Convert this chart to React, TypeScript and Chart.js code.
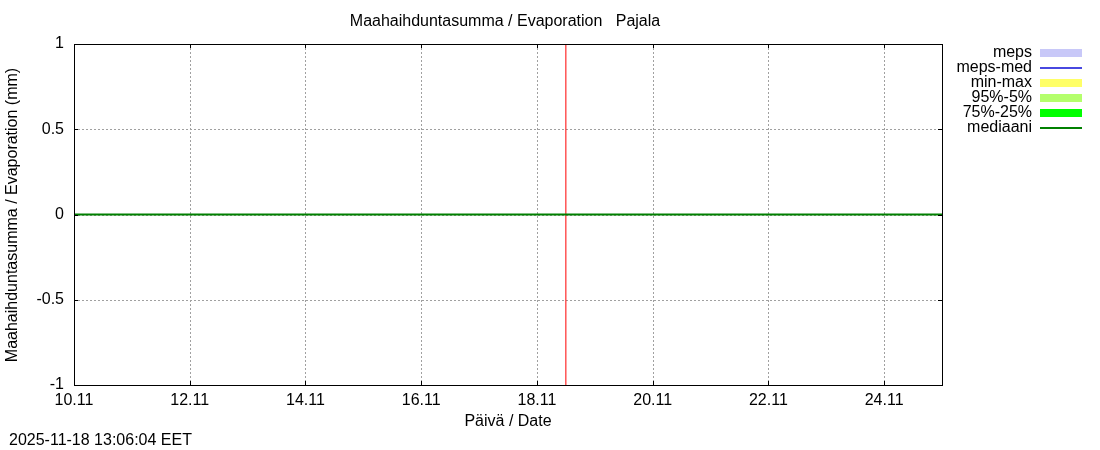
import { useEffect, useRef } from "react";
import { Chart, registerables } from "chart.js";

Chart.register(...registerables);

const TITLE = "Maahaihduntasumma / Evaporation   Pajala";
const Y_TITLE = "Maahaihduntasumma / Evaporation (mm)";
const X_TITLE = "Päivä / Date";
const TIMESTAMP = "2025-11-18 13:06:04 EET";

// x values are day-of-month in November
const X_MIN = 10;
const X_MAX = 25;
const X_TICKS = [10, 12, 14, 16, 18, 20, 22, 24];
const X_TICK_LABELS = ["10.11", "12.11", "14.11", "16.11", "18.11", "20.11", "22.11", "24.11"];
const Y_MIN = -1;
const Y_MAX = 1;
const Y_TICKS = [-1, -0.5, 0, 0.5, 1];

const medianDays = [10, 25];
const medianValues = [0, 0];
const nowDay = 18.5;

const LEGEND_LABELS = ["meps", "meps-med", "min-max", "95%-5%", "75%-25%", "mediaani"];
const LEGEND_COLORS = ["#c8c8f8", "#4848e0", "#ffff66", "#b4ff6c", "#00ff00", "#008000"];
const LEGEND_THICK = [true, false, true, true, true, false];

const FONT = '"Liberation Sans", Arial, sans-serif';

export default function App() {
  const ref = useRef<HTMLCanvasElement | null>(null);

  useEffect(() => {
    document.body.style.margin = "0";
    const canvas = ref.current;
    if (!canvas) return;

    const decor = {
      id: "decor",
      beforeDatasetsDraw(chart: any) {
        const { ctx, chartArea: a, scales } = chart;
        ctx.save();
        ctx.strokeStyle = "#a0a0a0";
        ctx.lineWidth = 1;
        ctx.setLineDash([2, 2]);
        X_TICKS.forEach((v) => {
          const x = Math.round(scales.x.getPixelForValue(v)) + 0.5;
          ctx.beginPath();
          ctx.moveTo(x, a.top);
          ctx.lineTo(x, a.bottom);
          ctx.stroke();
        });
        Y_TICKS.forEach((v) => {
          const y = Math.round(scales.y.getPixelForValue(v)) + 0.5;
          ctx.beginPath();
          ctx.moveTo(a.left, y);
          ctx.lineTo(a.right, y);
          ctx.stroke();
        });
        ctx.restore();
      },
      afterDraw(chart: any) {
        const { ctx, chartArea: a, scales } = chart;
        ctx.save();
        // border box
        ctx.strokeStyle = "#000";
        ctx.lineWidth = 1;
        ctx.setLineDash([]);
        ctx.strokeRect(Math.round(a.left) + 0.5, Math.round(a.top) + 0.5, Math.round(a.right - a.left), Math.round(a.bottom - a.top));
        // inward ticks on all sides
        const tl = 4;
        X_TICKS.forEach((v) => {
          const x = Math.round(scales.x.getPixelForValue(v)) + 0.5;
          ctx.beginPath();
          ctx.moveTo(x, a.bottom);
          ctx.lineTo(x, a.bottom - tl);
          ctx.moveTo(x, a.top);
          ctx.lineTo(x, a.top + tl);
          ctx.stroke();
        });
        Y_TICKS.forEach((v) => {
          const y = Math.round(scales.y.getPixelForValue(v)) + 0.5;
          ctx.beginPath();
          ctx.moveTo(a.left, y);
          ctx.lineTo(a.left + tl, y);
          ctx.moveTo(a.right, y);
          ctx.lineTo(a.right - tl, y);
          ctx.stroke();
        });

        ctx.fillStyle = "#000";
        ctx.font = "16px " + FONT;
        // title
        ctx.textAlign = "center";
        ctx.textBaseline = "middle";
        ctx.fillText(TITLE, 505, 22);
        // x title
        ctx.fillText(X_TITLE, (a.left + a.right) / 2, 422);
        // y title
        ctx.save();
        ctx.translate(13, 215);
        ctx.rotate(-Math.PI / 2);
        ctx.fillText(Y_TITLE, 0, 0);
        ctx.restore();
        // timestamp
        ctx.textAlign = "left";
        ctx.fillText(TIMESTAMP, 9, 441);

        // legend
        LEGEND_LABELS.forEach((lab, i) => {
          const y = 53 + i * 15;
          ctx.fillStyle = "#000";
          ctx.textAlign = "right";
          ctx.textBaseline = "middle";
          ctx.fillText(lab, 1032, y);
          ctx.fillStyle = LEGEND_COLORS[i];
          if (LEGEND_THICK[i]) {
            ctx.fillRect(1040, y - 4, 42, 8);
          } else {
            ctx.fillRect(1040, y - 1, 42, 2);
          }
        });
        ctx.restore();
      },
    };

    const chart = new Chart(canvas, {
      type: "line",
      data: {
        datasets: [
          {
            label: "mediaani",
            data: medianDays.map((d, i) => ({ x: d, y: medianValues[i] })),
            borderColor: "#008000",
            borderWidth: 2,
            pointRadius: 0,
            fill: false,
          },
          {
            label: "now",
            data: [
              { x: nowDay, y: Y_MIN },
              { x: nowDay, y: Y_MAX },
            ],
            borderColor: "#ff0000",
            borderWidth: 1,
            pointRadius: 0,
            fill: false,
          },
        ],
      },
      options: {
        animation: false,
        responsive: false,
        devicePixelRatio: 1,
        layout: { padding: { left: 0, right: 158, top: 44, bottom: 0 } },
        plugins: { legend: { display: false }, tooltip: { enabled: false }, title: { display: false } },
        scales: {
          x: {
            type: "linear",
            min: X_MIN,
            max: X_MAX,
            afterBuildTicks: (s: any) => {
              s.ticks = X_TICKS.map((v) => ({ value: v }));
            },
            afterFit: (s: any) => {
              s.height = 65;
            },
            grid: { display: false, drawTicks: false },
            border: { display: false },
            ticks: {
              autoSkip: false,
              maxRotation: 0,
              padding: 6,
              color: "#000",
              font: { family: FONT, size: 16 },
              callback: (v: any) => {
                const i = X_TICKS.indexOf(Number(v));
                return i >= 0 ? X_TICK_LABELS[i] : "";
              },
            },
          },
          y: {
            type: "linear",
            min: Y_MIN,
            max: Y_MAX,
            afterBuildTicks: (s: any) => {
              s.ticks = Y_TICKS.map((v) => ({ value: v }));
            },
            afterFit: (s: any) => {
              s.width = 74;
            },
            grid: { display: false, drawTicks: false },
            border: { display: false },
            ticks: {
              padding: 10,
              color: "#000",
              font: { family: FONT, size: 16 },
              callback: (v: any) => String(v),
            },
          },
        },
      },
      plugins: [decor],
    } as any);

    return () => chart.destroy();
  }, []);

  return (
    <div style={{ position: "absolute", left: 0, top: 0, width: 1100, height: 450, background: "#fff" }}>
      <canvas ref={ref} width={1100} height={450} style={{ width: 1100, height: 450, display: "block" }} />
    </div>
  );
}
